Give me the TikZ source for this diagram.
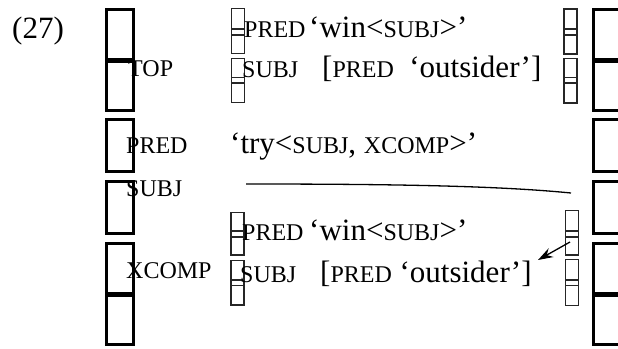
\documentclass[tikz,border=0pt]{standalone}
\usepackage{fontspec}
\setmainfont{Liberation Serif}
\usetikzlibrary{arrows.meta}
% attribute names and values of the f-structure
\newcommand{\attrsize}{\fontsize{24}{28}\selectfont}
\newcommand{\valsize}{\fontsize{31}{36}\selectfont}
\newcommand{\fsattr}[1]{{\attrsize #1}}
\begin{document}
\begin{tikzpicture}[x=1pt,y=-1pt,
  bigbox/.style={draw=black, line width=3pt},
  smallbox/.style={draw=black!85, line width=1.2pt},
  lbl/.style={anchor=base west, inner sep=0pt, font=\attrsize},
  val/.style={anchor=base west, inner sep=0pt, font=\valsize},
  link/.style={draw=black, line width=1.3pt},
  ptr/.style={draw=black, line width=1.3pt, -{Stealth[length=15pt,width=10pt,inset=5pt]}}]
\useasboundingbox (0,0) rectangle (618,348);

% outer brackets, left column
\draw[bigbox] (106.5,9.5)   rectangle (133.5,59);
\draw[bigbox] (106.5,61.5)  rectangle (133.5,110.5);
\draw[bigbox] (106.5,119.5) rectangle (133.5,171.5);
\draw[bigbox] (106.5,181.5) rectangle (133.5,233.5);
\draw[bigbox] (106.5,243.5) rectangle (133.5,293);
\draw[bigbox] (106.5,295)   rectangle (133.5,344.5);

% outer brackets, right column
\draw[bigbox] (593.5,9.5)   rectangle (621.5,59);
\draw[bigbox] (593.5,61.5)  rectangle (621.5,110.5);
\draw[bigbox] (593.5,119.5) rectangle (621.5,171.5);
\draw[bigbox] (593.5,181.5) rectangle (621.5,233.5);
\draw[bigbox] (593.5,243.5) rectangle (621.5,293);
\draw[bigbox] (593.5,295)   rectangle (621.5,344.5);

% inner brackets of the TOP value
\draw[smallbox] (231.5,8.5)  rectangle (244.5,35);
\draw[smallbox] (231.5,29)   rectangle (244.5,53.5);
\draw[smallbox] (231.5,58.5) rectangle (244.5,83);
\draw[smallbox] (231.5,77.5) rectangle (244.5,102.5);
\draw[smallbox] (564,9)    rectangle (577,35);
\draw[smallbox] (564,29)   rectangle (577,54);
\draw[smallbox] (564,58.5) rectangle (577,83);
\draw[smallbox] (564,77.5) rectangle (577,103);

% inner brackets of the XCOMP value
\draw[smallbox] (231,212.5) rectangle (244,237);
\draw[smallbox] (231,231)   rectangle (244,255);
\draw[smallbox] (231,260.5) rectangle (244,285.5);
\draw[smallbox] (231,280)   rectangle (244,305);
\draw[smallbox] (565.5,210.5) rectangle (578.5,237);
\draw[smallbox] (565.5,231)   rectangle (578.5,255);
\draw[smallbox] (565.5,259.5) rectangle (578.5,285.5);
\draw[smallbox] (565.5,280)   rectangle (578.5,305.5);

% example number
\node[val] (num) at (12,38) {(27)};

% outer attributes
\node[lbl] (top)   at (128,76)  {TOP};
\node[lbl] (pred)  at (126,153) {PRED};
\node[lbl] (subj)  at (126,196) {SUBJ};
\node[lbl] (xcomp) at (126,278) {XCOMP};
\node[val] (predv) at (230,153) {‘try<\fsattr{SUBJ}, \fsattr{XCOMP}>’};

% TOP f-structure
\node[lbl] (tpred)  at (244,37) {PRED};
\node[val] (tpredv) at (309,37) {‘win<\fsattr{SUBJ}>’};
\node[lbl] (tsubj)  at (242,77) {SUBJ};
\node[val] (tsubjv) at (322,77) {[\fsattr{PRED}\ \ ‘outsider’]};

% XCOMP f-structure
\node[lbl] (xpred)  at (242,240) {PRED};
\node[val] (xpredv) at (309,240) {‘win<\fsattr{SUBJ}>’};
\node[lbl] (xsubj)  at (240,282) {SUBJ};
\node[val] (xsubjv) at (320,282) {[\fsattr{PRED} ‘outsider’]};

% structure sharing: SUBJ line and pointer to the embedded subject
\coordinate (linkA) at (246,184);
\coordinate (linkB) at (571,193);
\coordinate (ptrA)  at (570,242);
\coordinate (ptrB)  at (538,260);
\draw[link] (linkA) .. controls (400,184) and (500,186) .. (linkB);
\draw[ptr] (ptrA) -- (ptrB);
\end{tikzpicture}
\end{document}
